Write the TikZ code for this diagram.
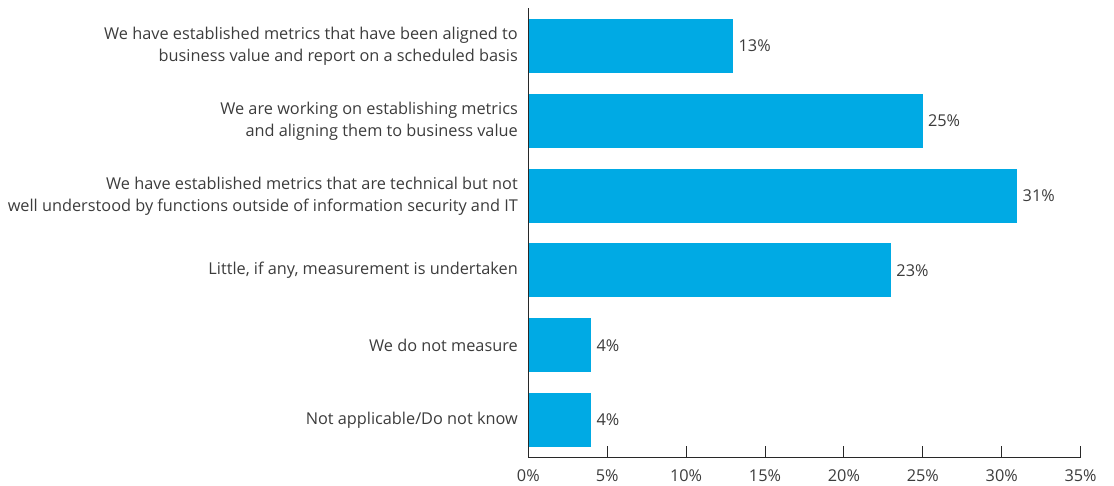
\documentclass[tikz,border=0pt]{standalone}
\usepackage{fontspec}
\setmainfont{Open Sans}
\definecolor{barblue}{RGB}{0,170,228}
\definecolor{txtgrey}{RGB}{60,60,60}
\definecolor{axisgrey}{RGB}{40,40,40}
\begin{document}
\begin{tikzpicture}[x=1pt,y=-1pt,
  bar/.style={fill=barblue,draw=none},
  cat/.style={anchor=east,align=right,text=txtgrey,font=\fontsize{16.3}{22}\selectfont,inner sep=0pt},
  val/.style={anchor=west,text=txtgrey,font=\fontsize{16.3}{19}\selectfont,inner sep=0pt},
  tick/.style={anchor=center,text=txtgrey,font=\fontsize{16.3}{19}\selectfont,inner sep=0pt},
  axisline/.style={draw=axisgrey,line width=1pt}]
\useasboundingbox (0,0) rectangle (1114,485);
\def\u{15.78}
% bars
\foreach \v/\t [count=\i from 0] in {13/a,25/b,31/c,23/d,4/e,4/f}{
  \pgfmathsetmacro{\ytop}{19+\i*74.8}
  \pgfmathsetmacro{\ybot}{\ytop+54}
  \pgfmathsetmacro{\xr}{528.3+\v*\u}
  \fill[bar] (528.3,\ytop) rectangle (\xr,\ybot);
  \node[val] (v\t) at (\xr+5,\ytop+27) {\v\%};
}
% category labels
\node[cat] (c1) at (518,46) {We have established metrics that have been aligned to\\business value and report on a scheduled basis};
\node[cat] (c2) at (518,121) {We are working on establishing metrics\\and aligning them to business value};
\node[cat] (c3) at (518,196) {We have established metrics that are technical but not\\well understood by functions outside of information security and IT};
\node[cat] (c4) at (518,270) {Little, if any, measurement is undertaken};
\node[cat] (c5) at (518,345) {We do not measure};
\node[cat] (c6) at (518,420) {Not applicable/Do not know};
% axes
\coordinate (ytop) at (528.3,8);
\coordinate (orig) at (528.3,457);
\coordinate (xend) at (1080.7,457);
\draw[axisline] (ytop) -- (orig) -- (xend);
\foreach \p in {0,5,...,35}{
  \pgfmathsetmacro{\xx}{528.3+\p*\u}
  \draw[axisline] (\xx,446) -- (\xx,457);
  \node[tick] (t\p) at (\xx,476) {\p\%};
}
\end{tikzpicture}
\end{document}
